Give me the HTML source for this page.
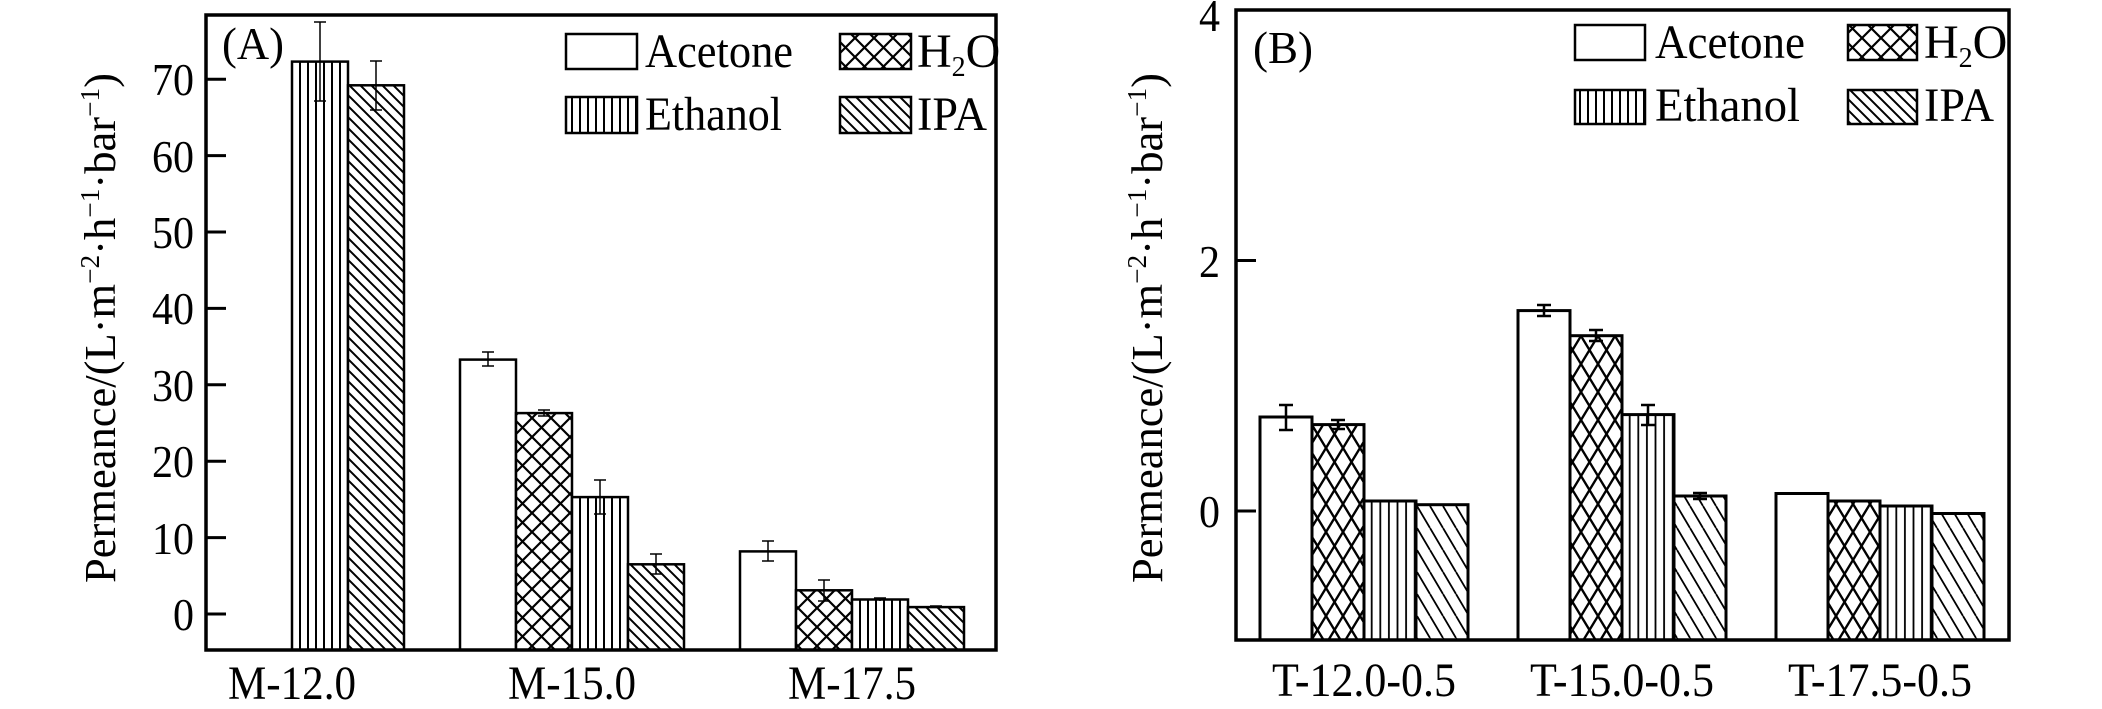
<!DOCTYPE html>
<html><head><meta charset="utf-8"><style>
html,body{margin:0;padding:0;background:#fff;overflow:hidden;width:2102px;height:709px}
svg{display:block}
text{font-family:"Liberation Serif",serif;fill:#000}
</style></head><body>
<svg width="2102" height="709" viewBox="0 0 2102 709" xmlns="http://www.w3.org/2000/svg">
<defs>
<pattern id="vA" patternUnits="userSpaceOnUse" width="8" height="10"><rect width="8" height="10" fill="#fff"/><line x1="4" y1="0" x2="4" y2="10" stroke="#000" stroke-width="2"/></pattern>
<pattern id="dA" patternUnits="userSpaceOnUse" width="11" height="11"><rect width="11" height="11" fill="#fff"/><path d="M-1,-1 L12,12 M-6.5,4.5 L6.5,17.5 M4.5,-6.5 L17.5,6.5" stroke="#000" stroke-width="2"/></pattern>
<pattern id="xA" patternUnits="userSpaceOnUse" width="19" height="19"><rect width="19" height="19" fill="#fff"/><path d="M0,0 L19,19 M19,0 L0,19" stroke="#000" stroke-width="2.2"/></pattern>
<pattern id="vB" patternUnits="userSpaceOnUse" width="8.6" height="10"><rect width="8.6" height="10" fill="#fff"/><line x1="4.3" y1="0" x2="4.3" y2="10" stroke="#000" stroke-width="1.8"/></pattern>
<pattern id="dB" patternUnits="userSpaceOnUse" width="13" height="22"><rect width="13" height="22" fill="#fff"/><path d="M0,0 L13,22 M-13,0 L0,22 M13,0 L26,22" stroke="#000" stroke-width="1.8"/></pattern>
<pattern id="xB" patternUnits="userSpaceOnUse" width="17" height="28"><rect width="17" height="28" fill="#fff"/><path d="M0,0 L17,28 M17,0 L0,28" stroke="#000" stroke-width="2.4"/></pattern>
<clipPath id="cA"><rect x="206" y="15" width="790" height="635"/></clipPath>
<clipPath id="cB"><rect x="1236" y="10" width="773" height="630"/></clipPath>
</defs>

<!-- Panel A -->
<g clip-path="url(#cA)" stroke="#000" stroke-width="2.5">
<rect x="292" y="61.6" width="56" height="600" fill="url(#vA)"/>
<rect x="348" y="85.3" width="56" height="600" fill="url(#dA)"/>
<rect x="460" y="359.6" width="56" height="300" fill="#fff"/>
<rect x="516" y="413.1" width="56" height="300" fill="url(#xA)"/>
<rect x="572" y="497.1" width="56" height="300" fill="url(#vA)"/>
<rect x="628" y="564.3" width="56" height="300" fill="url(#dA)"/>
<rect x="740" y="551.4" width="56" height="300" fill="#fff"/>
<rect x="796" y="590.3" width="56" height="300" fill="url(#xA)"/>
<rect x="852" y="599.5" width="56" height="300" fill="url(#vA)"/>
<rect x="908" y="607.1" width="56" height="300" fill="url(#dA)"/>
</g>
<g stroke="#000" stroke-width="1.5" fill="none">
<path d="M320,22 V101 M314,22 H326 M314,101 H326"/>
<path d="M376,61 V110 M370,61 H382 M370,110 H382"/>
<path d="M488,352 V366 M482,352 H494 M482,366 H494"/>
<path d="M544,410 V416 M538,410 H550 M538,416 H550"/>
<path d="M600,480 V514 M594,480 H606 M594,514 H606"/>
<path d="M656,554 V574 M650,554 H662 M650,574 H662"/>
<path d="M768,541 V561 M762,541 H774 M762,561 H774"/>
<path d="M824,580 V601 M818,580 H830 M818,601 H830"/>
<path d="M880,598 V601 M874,598 H886"/>
<path d="M936,606 V608 M930,606 H942"/>
</g>
<rect x="206" y="15" width="790" height="635" fill="none" stroke="#000" stroke-width="3.5"/>
<g stroke="#000" stroke-width="3">
<line x1="206" y1="614" x2="226" y2="614"/><line x1="206" y1="537.6" x2="226" y2="537.6"/><line x1="206" y1="461.2" x2="226" y2="461.2"/><line x1="206" y1="384.8" x2="226" y2="384.8"/><line x1="206" y1="308.4" x2="226" y2="308.4"/><line x1="206" y1="232" x2="226" y2="232"/><line x1="206" y1="155.6" x2="226" y2="155.6"/><line x1="206" y1="79.2" x2="226" y2="79.2"/>
</g>
<g font-size="46" text-anchor="end">
<text x="194" y="630" textLength="21" lengthAdjust="spacingAndGlyphs">0</text>
<text x="194" y="554" textLength="42" lengthAdjust="spacingAndGlyphs">10</text>
<text x="194" y="477" textLength="42" lengthAdjust="spacingAndGlyphs">20</text>
<text x="194" y="401" textLength="42" lengthAdjust="spacingAndGlyphs">30</text>
<text x="194" y="324" textLength="42" lengthAdjust="spacingAndGlyphs">40</text>
<text x="194" y="248" textLength="42" lengthAdjust="spacingAndGlyphs">50</text>
<text x="194" y="172" textLength="42" lengthAdjust="spacingAndGlyphs">60</text>
<text x="194" y="95" textLength="42" lengthAdjust="spacingAndGlyphs">70</text>
</g>
<text transform="translate(115,328) rotate(-90)" font-size="44" text-anchor="middle" textLength="510" lengthAdjust="spacingAndGlyphs">Permeance/(L·m<tspan font-size="27" dy="-16">−2</tspan><tspan dy="16">·h</tspan><tspan font-size="27" dy="-16">−1</tspan><tspan dy="16">·bar</tspan><tspan font-size="27" dy="-16">−1</tspan><tspan dy="16">)</tspan></text>
<text x="222" y="59" font-size="46" textLength="62" lengthAdjust="spacingAndGlyphs">(A)</text>
<g font-size="48" text-anchor="middle">
<text x="292" y="699" textLength="128" lengthAdjust="spacingAndGlyphs">M-12.0</text>
<text x="572" y="699" textLength="128" lengthAdjust="spacingAndGlyphs">M-15.0</text>
<text x="852" y="699" textLength="128" lengthAdjust="spacingAndGlyphs">M-17.5</text>
</g>
<g stroke="#000" stroke-width="2.5">
<rect x="566" y="34" width="71" height="35" fill="#fff"/>
<rect x="840" y="34" width="71" height="35" fill="url(#xA)"/>
<rect x="566" y="97" width="71" height="36" fill="url(#vA)"/>
<rect x="840" y="97" width="71" height="36" fill="url(#dA)"/>
</g>
<g font-size="48">
<text x="645" y="67" textLength="148" lengthAdjust="spacingAndGlyphs">Acetone</text>
<text x="917" y="67">H<tspan font-size="28" dy="9">2</tspan><tspan dy="-9">O</tspan></text>
<text x="645" y="130" textLength="137" lengthAdjust="spacingAndGlyphs">Ethanol</text>
<text x="917" y="130" textLength="70" lengthAdjust="spacingAndGlyphs">IPA</text>
</g>

<!-- Panel B -->
<g clip-path="url(#cB)" stroke="#000" stroke-width="3">
<rect x="1260" y="417" width="52" height="300" fill="#fff"/>
<rect x="1312" y="424.6" width="52" height="300" fill="url(#xB)"/>
<rect x="1364" y="501" width="52" height="300" fill="url(#vB)"/>
<rect x="1416" y="504.7" width="52" height="300" fill="url(#dB)"/>
<rect x="1518" y="310.6" width="52" height="400" fill="#fff"/>
<rect x="1570" y="335.7" width="52" height="400" fill="url(#xB)"/>
<rect x="1622" y="414.6" width="52" height="300" fill="url(#vB)"/>
<rect x="1674" y="496" width="52" height="300" fill="url(#dB)"/>
<rect x="1776" y="493.5" width="52" height="300" fill="#fff"/>
<rect x="1828" y="501" width="52" height="300" fill="url(#xB)"/>
<rect x="1880" y="506" width="52" height="300" fill="url(#vB)"/>
<rect x="1932" y="513.5" width="52" height="300" fill="url(#dB)"/>
</g>
<g stroke="#000" stroke-width="2.5" fill="none">
<path d="M1286,405 V430 M1279,405 H1293 M1279,430 H1293"/>
<path d="M1338,420 V429 M1331,420 H1345 M1331,429 H1345"/>
<path d="M1544,305 V316 M1537,305 H1551 M1537,316 H1551"/>
<path d="M1596,330 V341 M1589,330 H1603 M1589,341 H1603"/>
<path d="M1648,405 V425 M1641,405 H1655 M1641,425 H1655"/>
<path d="M1700,493 V499 M1693,493 H1707 M1693,499 H1707"/>
</g>
<rect x="1236" y="10" width="773" height="630" fill="none" stroke="#000" stroke-width="3.5"/>
<g stroke="#000" stroke-width="3">
<line x1="1236" y1="511" x2="1256" y2="511"/><line x1="1236" y1="260.5" x2="1256" y2="260.5"/>
</g>
<g font-size="46" text-anchor="end">
<text x="1220" y="527" textLength="21" lengthAdjust="spacingAndGlyphs">0</text>
<text x="1220" y="277" textLength="21" lengthAdjust="spacingAndGlyphs">2</text>
<text x="1220" y="31" textLength="21" lengthAdjust="spacingAndGlyphs">4</text>
</g>
<text transform="translate(1162,328) rotate(-90)" font-size="44" text-anchor="middle" textLength="510" lengthAdjust="spacingAndGlyphs">Permeance/(L·m<tspan font-size="27" dy="-16">−2</tspan><tspan dy="16">·h</tspan><tspan font-size="27" dy="-16">−1</tspan><tspan dy="16">·bar</tspan><tspan font-size="27" dy="-16">−1</tspan><tspan dy="16">)</tspan></text>
<text x="1253" y="63" font-size="46" textLength="60" lengthAdjust="spacingAndGlyphs">(B)</text>
<g font-size="48" text-anchor="middle">
<text x="1364" y="696" textLength="184" lengthAdjust="spacingAndGlyphs">T-12.0-0.5</text>
<text x="1622" y="696" textLength="184" lengthAdjust="spacingAndGlyphs">T-15.0-0.5</text>
<text x="1880" y="696" textLength="184" lengthAdjust="spacingAndGlyphs">T-17.5-0.5</text>
</g>
<g stroke="#000" stroke-width="2.5">
<rect x="1575" y="25" width="70" height="35" fill="#fff"/>
<rect x="1848" y="25" width="69" height="35" fill="url(#xA)"/>
<rect x="1575" y="90" width="70" height="34" fill="url(#vA)"/>
<rect x="1848" y="90" width="69" height="34" fill="url(#dA)"/>
</g>
<g font-size="48">
<text x="1655" y="58" textLength="150" lengthAdjust="spacingAndGlyphs">Acetone</text>
<text x="1924" y="58">H<tspan font-size="28" dy="9">2</tspan><tspan dy="-9">O</tspan></text>
<text x="1655" y="121" textLength="145" lengthAdjust="spacingAndGlyphs">Ethanol</text>
<text x="1924" y="121" textLength="70" lengthAdjust="spacingAndGlyphs">IPA</text>
</g>
</svg>
</body></html>
